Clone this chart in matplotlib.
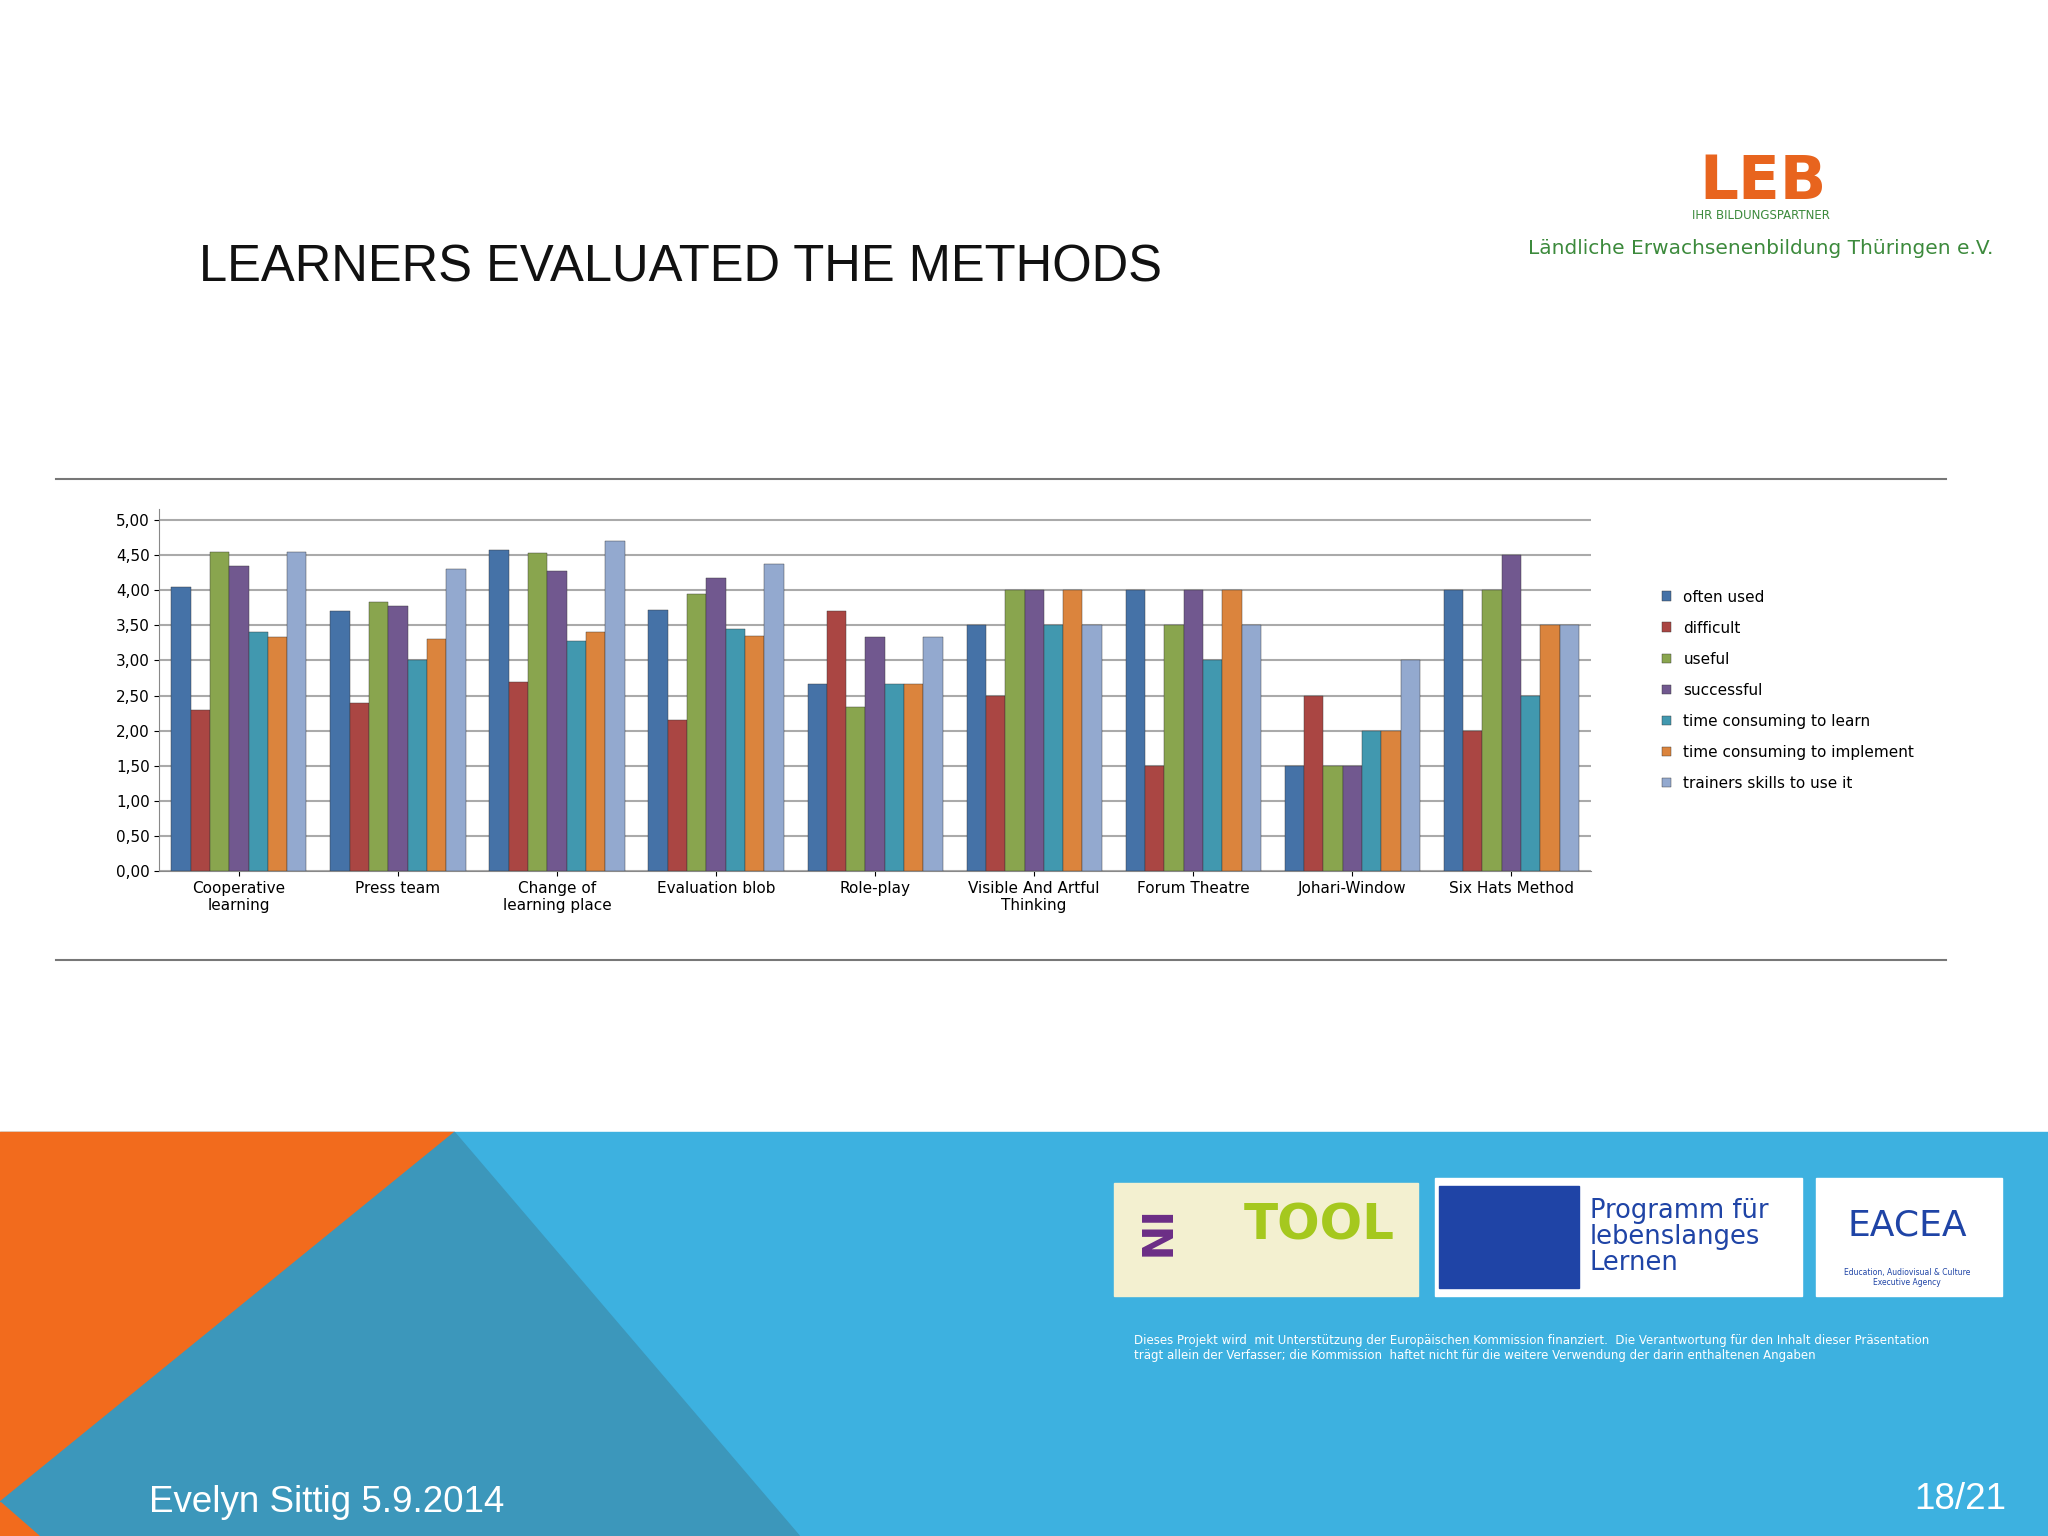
import matplotlib
matplotlib.use('Agg')
import numpy as np
import matplotlib.pyplot as plt
from matplotlib.patches import Polygon, Rectangle

# ── data ─────────────────────────────────────────────────────────────
methods = ["Cooperative\nlearning", "Press team", "Change of\nlearning place",
           "Evaluation blob", "Role-play", "Visible And Artful\nThinking",
           "Forum Theatre", "Johari-Window", "Six Hats Method"]
series = ["often used", "difficult", "useful", "successful",
          "time consuming to learn", "time consuming to implement",
          "trainers skills to use it"]
often_used   = [4.05, 3.70, 4.57, 3.72, 2.67, 3.50, 4.00, 1.50, 4.00]
difficult    = [2.30, 2.40, 2.70, 2.15, 3.70, 2.50, 1.50, 2.50, 2.00]
useful       = [4.55, 3.83, 4.53, 3.95, 2.33, 4.00, 3.50, 1.50, 4.00]
successful   = [4.35, 3.77, 4.28, 4.18, 3.33, 4.00, 4.00, 1.50, 4.50]
time_learn   = [3.40, 3.00, 3.27, 3.45, 2.67, 3.50, 3.00, 2.00, 2.50]
time_impl    = [3.33, 3.30, 3.40, 3.35, 2.67, 4.00, 4.00, 2.00, 3.50]
trainer_skil = [4.55, 4.30, 4.70, 4.37, 3.33, 3.50, 3.50, 3.00, 3.50]
values = [often_used, difficult, useful, successful, time_learn, time_impl, trainer_skil]
colors = ["#4572A7", "#AA4643", "#89A54E", "#71588F", "#4198AF", "#DB843D", "#93A9CF"]
yticks = np.arange(0, 5.01, 0.5)

W, H = 1568, 1176
fig = plt.figure(figsize=(20.48, 15.36), dpi=100)
fig.patch.set_facecolor("white")

def fx(x): return x / W
def fy(y): return 1 - y / H

# title and header
fig.text(fx(152), fy(205), "LEARNERS EVALUATED THE METHODS", fontsize=36.5,
         family="Liberation Sans", va="center", color="#111111")
fig.text(fx(1348), fy(190), "Ländliche Erwachsenenbildung Thüringen e.V.", fontsize=14.5,
         color="#3C8A3C", ha="center", va="center")
fig.text(fx(1350), fy(140), "LEB", fontsize=44, color="#E8641E", ha="center",
         va="center", fontweight="bold")
fig.text(fx(1348), fy(165), "IHR BILDUNGSPARTNER", fontsize=8.5, color="#3C8A3C",
         ha="center", va="center")

# frame lines around chart
fig.add_artist(plt.Line2D([fx(43), fx(1490)], [fy(367), fy(367)], color="#777777", lw=1.5))
fig.add_artist(plt.Line2D([fx(43), fx(1490)], [fy(735), fy(735)], color="#777777", lw=1.5))

# ── chart ────────────────────────────────────────────────────────────
ax = fig.add_axes([fx(122), fy(667), fx(1218 - 122), (667 - 390) / H])
n = len(series)
x = np.arange(len(methods))
bw = 0.85 / n
for i, (name, vals, c) in enumerate(zip(series, values, colors)):
    ax.bar(x - 0.425 + bw * (i + 0.5), vals, width=bw, color=c, label=name,
           edgecolor="#333333", linewidth=0.3, zorder=3)
ax.set_ylim(0, 5.15)
ax.set_xlim(-0.5, len(methods) - 0.5)
ax.set_yticks(yticks)
ax.set_yticklabels([f"{v:.2f}".replace(".", ",") for v in yticks], fontsize=11)
ax.set_xticks(x)
ax.set_xticklabels(methods, fontsize=11)
ax.grid(axis="y", color="#AAAAAA", lw=1.5, zorder=0)
for s in ["top", "right"]:
    ax.spines[s].set_visible(False)
ax.spines["left"].set_color("#888888")
ax.spines["bottom"].set_color("#888888")
ax.legend(loc="center left", bbox_to_anchor=(1.04, 0.5), frameon=False,
          fontsize=11, handlelength=0.6, handleheight=0.6, labelspacing=1.05)

# ── footer ───────────────────────────────────────────────────────────
fig.add_artist(Rectangle((0, 0), 1, fy(867), transform=fig.transFigure,
                         color="#3DB1E0", zorder=0))
fig.add_artist(Polygon([[0, fy(867)], [fx(348), fy(867)], [0, fy(1150)]],
                       closed=True, transform=fig.transFigure, color="#F26B1D", zorder=1))
fig.add_artist(Polygon([[fx(348), fy(867)], [fx(612), 0], [0, 0], [0, fy(1150)]],
                       closed=True, transform=fig.transFigure, color="#3C97BB", zorder=1))
fig.add_artist(Polygon([[0, fy(1150)], [0, 0], [fx(30), 0]], closed=True,
                       transform=fig.transFigure, color="#F26B1D", zorder=1))

# logo boxes
fig.add_artist(Rectangle((fx(853), fy(992)), fx(233), (992 - 906) / H,
                         transform=fig.transFigure, color="#F3F0D0", zorder=2))
fig.text(fx(1010), fy(938), "TOOL", fontsize=36, color="#A5C81E", fontweight="bold",
         ha="center", va="center", zorder=3)
fig.text(fx(880), fy(948), "IN", fontsize=30, color="#6B2D86", fontweight="bold",
         ha="center", va="center", rotation=-90, zorder=3)
fig.add_artist(Rectangle((fx(1099), fy(992)), fx(281), (992 - 902) / H,
                         transform=fig.transFigure, color="white", zorder=2))
fig.add_artist(Rectangle((fx(1102), fy(986)), fx(107), (986 - 908) / H,
                         transform=fig.transFigure, color="#1F44A6", zorder=3))
fig.text(fx(1217), fy(947), "Programm für\nlebenslanges\nLernen", fontsize=18.5,
         color="#1F44A6", va="center", zorder=3, linespacing=1.0)
fig.add_artist(Rectangle((fx(1390), fy(992)), fx(143), (992 - 902) / H,
                         transform=fig.transFigure, color="white", zorder=2))
fig.text(fx(1460), fy(938), "EACEA", fontsize=26, color="#1F44A6", ha="center",
         va="center", zorder=3)
fig.text(fx(1460), fy(978), "Education, Audiovisual & Culture\nExecutive Agency", fontsize=5.5,
         color="#1F44A6", ha="center", va="center", zorder=3)
fig.text(fx(868), fy(1032),
         "Dieses Projekt wird  mit Unterstützung der Europäischen Kommission finanziert.  Die Verantwortung für den Inhalt dieser Präsentation\n"
         "trägt allein der Verfasser; die Kommission  haftet nicht für die weitere Verwendung der darin enthaltenen Angaben",
         fontsize=8.5, color="white", va="center", zorder=3)

fig.text(fx(114), fy(1150), "Evelyn Sittig 5.9.2014", fontsize=26.5, color="white",
         family="Liberation Sans", va="center", zorder=3)
fig.text(fx(1536), fy(1148), "18/21", fontsize=26.5, color="white", ha="right",
         family="Liberation Sans", va="center", zorder=3)

fig.savefig("out.png", dpi=100)
